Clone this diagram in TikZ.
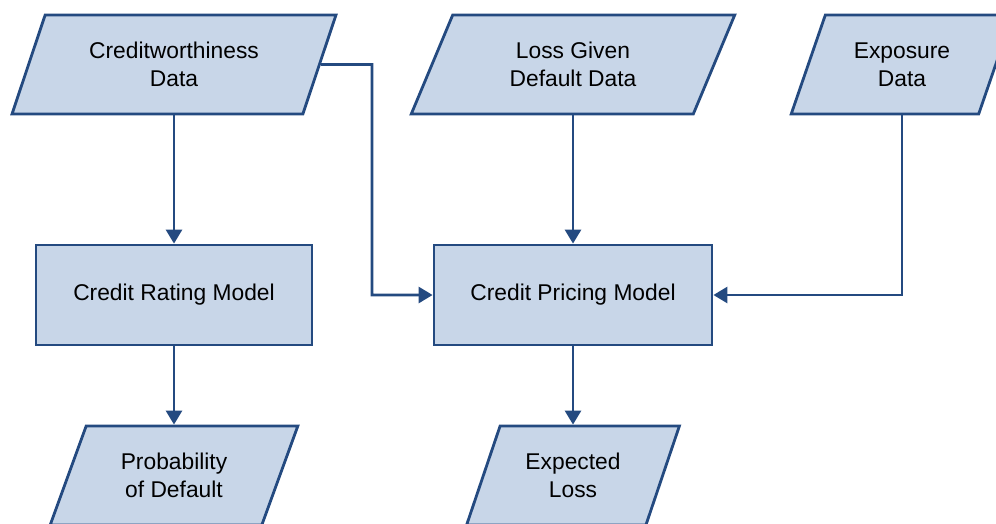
\documentclass[tikz,border=0pt]{standalone}
\usepackage{fontspec}
\setmainfont{Liberation Sans}
\usetikzlibrary{shapes.geometric,arrows.meta}
\definecolor{lineblue}{RGB}{36,74,128}
\definecolor{boxfill}{RGB}{200,214,232}
\tikzset{
  base/.style={draw=lineblue, fill=boxfill, line width=2.8pt, inner sep=0pt,
    align=center, font=\fontsize{22.8}{28}\selectfont},
  datashape/.style={base, trapezium, trapezium left angle=64,
    trapezium right angle=116, trapezium stretches=true, minimum height=99pt},
  modelbox/.style={base, rectangle, minimum height=100pt},
  arr/.style={draw=lineblue, line width=2.8pt,
    -{Triangle[length=14pt,width=16pt]}}
}
\begin{document}
\begin{tikzpicture}[x=1pt,y=1pt]
  \useasboundingbox (0,0) rectangle (996,-523);

  % input data
  \node[datashape, minimum width=324pt] (cw)  at (174,-64.5) {Creditworthiness\\Data};
  \node[datashape, minimum width=324pt] (lgd) at (573,-64.5) {Loss Given\\Default Data};
  \node[datashape, minimum width=222pt] (exp) at (902,-64.5) {Exposure\\Data};

  % models
  \node[modelbox, minimum width=276pt] (crm) at (174,-295) {Credit Rating Model};
  \node[modelbox, minimum width=278pt] (cpm) at (573,-295) {Credit Pricing Model};

  % outputs
  \node[datashape, minimum width=248pt] (pod) at (174,-475.5) {Probability\\of Default};
  \node[datashape, minimum width=213pt] (el)  at (573,-475.5) {Expected\\Loss};

  % connectors
  \coordinate (bend) at (372,-64.5);
  \draw[arr] (cw.center |- cw.south) -- (crm.north);
  \draw[arr] (cw.east) -- (bend) |- (cpm.west);
  \draw[arr] (lgd.center |- lgd.south) -- (cpm.north);
  \draw[arr] (exp.center |- exp.south) |- (cpm.east);
  \draw[arr] (crm.south) -- (pod.center |- pod.north);
  \draw[arr] (cpm.south) -- (el.center |- el.north);
\end{tikzpicture}
\end{document}
